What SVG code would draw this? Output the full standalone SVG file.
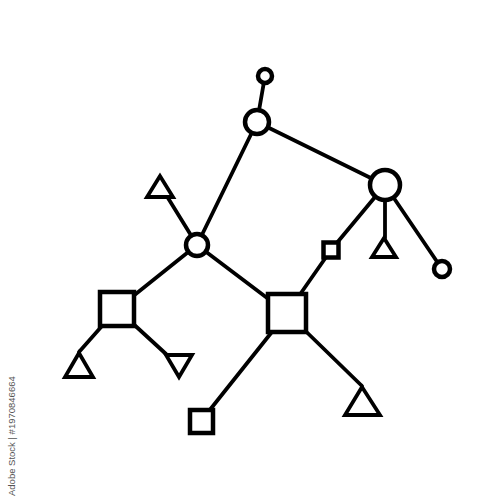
<svg xmlns="http://www.w3.org/2000/svg" width="500" height="500" viewBox="0 0 500 500">
<style>
.e{stroke:#000;stroke-width:3.8;fill:none;stroke-linecap:round}
.n{stroke:#000;stroke-width:4.5;fill:#fff;stroke-linejoin:miter}
.t{stroke:#000;stroke-width:3.8;fill:#fff;stroke-linejoin:miter}
.wm{font-family:"Liberation Sans",Arial,sans-serif;font-size:9.5px;fill:#555}
</style>
<rect width="500" height="500" fill="#fff"/>
<g id="connectors">
<line class="e" x1="265" y1="76" x2="257" y2="122"/>
<line class="e" x1="257" y1="122" x2="385" y2="185"/>
<line class="e" x1="257" y1="122" x2="197" y2="245"/>
<line class="e" x1="197" y1="245" x2="168" y2="198"/>
<line class="e" x1="197" y1="245" x2="117" y2="309"/>
<line class="e" x1="197" y1="245" x2="287" y2="313"/>
<line class="e" x1="385" y1="185" x2="331" y2="250"/>
<line class="e" x1="331" y1="250" x2="287" y2="313"/>
<line class="e" x1="385" y1="185" x2="385" y2="238"/>
<line class="e" x1="385" y1="185" x2="442" y2="269"/>
<line class="e" x1="117" y1="309" x2="79" y2="352"/>
<line class="e" x1="117" y1="309" x2="166" y2="354"/>
<line class="e" x1="287" y1="313" x2="201" y2="421"/>
<line class="e" x1="287" y1="313" x2="362" y2="386"/>
</g>
<g id="n-top"><circle class="n" cx="265" cy="76" r="7" stroke-width="3.8"/></g>
<g id="n-a"><circle class="n" cx="257" cy="122" r="12"/></g>
<g id="n-b"><circle class="n" cx="385" cy="185" r="15"/></g>
<g id="n-c"><circle class="n" cx="197" cy="245" r="11"/></g>
<g id="n-right"><circle class="n" cx="442" cy="269" r="8" stroke-width="3.8"/></g>
<g id="n-tri-top"><polygon class="t" points="160,176 147,197 173,197"/></g>
<g id="n-tri-b"><polygon class="t" points="384,238 372,257 396,257"/></g>
<g id="n-sq-small"><rect class="n" x="323.5" y="242.5" width="15" height="15" stroke-width="3.5"/></g>
<g id="n-sq-left"><rect class="n" x="100" y="292" width="34" height="34" stroke-width="5"/></g>
<g id="n-sq-center"><rect class="n" x="268" y="294" width="38" height="38" stroke-width="5"/></g>
<g id="n-tri-bl"><polygon class="t" points="79,353 65,377 93,377"/></g>
<g id="n-tri-inv"><polygon class="t" points="166,355 192,355 179,377"/></g>
<g id="n-sq-bottom"><rect class="n" x="190" y="410" width="23" height="23" stroke-width="3.5"/></g>
<g id="n-tri-br"><polygon class="t" points="362,387 345,415 380,415" stroke-width="4.2"/></g>
<text class="wm" transform="translate(15,496) rotate(-90)">Adobe Stock | #1970846664</text>
</svg>
